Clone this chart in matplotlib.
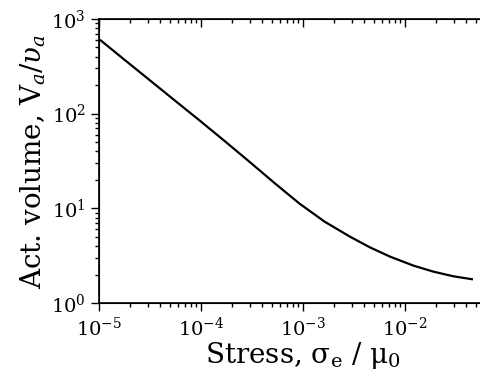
import numpy as np
import matplotlib
matplotlib.use("Agg")
import matplotlib.pyplot as plt
from matplotlib.ticker import LogLocator, NullFormatter

# valores (escala log-log)
stress = [1.04e-5, 1.76e-5, 3.10e-5, 5.47e-5, 9.64e-5, 1.70e-4, 2.99e-4, 5.26e-4,
          9.27e-4, 1.63e-3, 2.88e-3, 4.53e-3, 7.12e-3, 1.21e-2, 1.90e-2, 2.99e-2, 4.53e-2]
act_volume = [592, 373, 228, 139, 85, 51.5, 31, 18.5,
              11.2, 7.24, 5.04, 3.88, 3.10, 2.49, 2.15, 1.92, 1.79]
x_major = [1e-5, 1e-4, 1e-3, 1e-2]
y_major = [1, 10, 100, 1000]

plt.rcParams['font.family'] = ['DejaVu Serif']
plt.rcParams['mathtext.fontset'] = 'dejavuserif'

fig = plt.figure(figsize=(4.81, 3.78), dpi=100)
ax = fig.add_axes([0.206, 0.198, 0.848, 0.752])

ax.plot(stress, act_volume, color='black', lw=1.6)

ax.set_xscale('log')
ax.set_yscale('log')
ax.set_xlim(1e-5, 1e-1)
ax.set_ylim(1, 1e3)
ax.set_xticks(x_major)
ax.set_yticks(y_major)

minor = LogLocator(base=10, subs=np.arange(2, 10), numticks=20)
ax.xaxis.set_minor_locator(minor)
ax.yaxis.set_minor_locator(LogLocator(base=10, subs=np.arange(2, 10), numticks=20))
ax.xaxis.set_minor_formatter(NullFormatter())
ax.yaxis.set_minor_formatter(NullFormatter())

ax.tick_params(which='both', direction='out', labelsize=14, width=1)
ax.tick_params(which='major', length=6)
ax.tick_params(which='minor', length=3)
ax.spines['right'].set_visible(False)
for s in ['left', 'bottom', 'top']:
    ax.spines[s].set_linewidth(1.2)

# ticks do topo apontam para dentro
top = ax.twiny()
top.set_xscale('log')
top.set_xlim(ax.get_xlim())
top.set_xticks(x_major)
top.xaxis.set_minor_locator(LogLocator(base=10, subs=np.arange(2, 10), numticks=20))
top.xaxis.set_minor_formatter(NullFormatter())
top.tick_params(which='both', direction='in', labeltop=False, width=1)
top.tick_params(which='major', length=6)
top.tick_params(which='minor', length=3)
top.spines['right'].set_visible(False)

ax.set_xlabel('Stress, σ$_\\mathregular{e}$ / μ$_\\mathregular{0}$', fontsize=20, labelpad=0)
ax.set_ylabel('Act. volume, V$_a$/$\\upsilon_a$', fontsize=20, labelpad=2)

fig.savefig('out.png', dpi=100)
